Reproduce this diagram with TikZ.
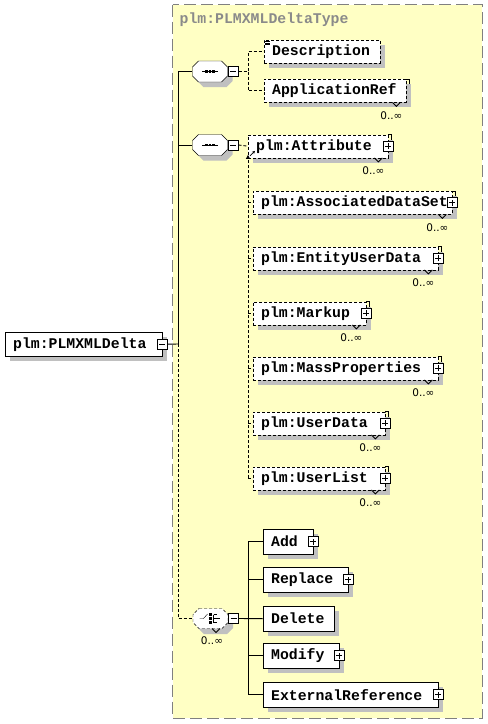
\documentclass[tikz,border=0pt]{standalone}
\usepackage{fontspec}
\usepackage{tikz}
\usetikzlibrary{arrows.meta,positioning,calc}
\newfontfamily\schemafont{Liberation Mono}
\newfontfamily\multfont{DejaVu Sans}
\definecolor{typefill}{HTML}{FFFFC4}
\definecolor{typeedge}{HTML}{808080}
\definecolor{typetext}{HTML}{8A8A8A}
\definecolor{shadegray}{HTML}{C0C0C0}
\pgfdeclarelayer{backdrop}
\pgfdeclarelayer{shade}
\pgfsetlayers{backdrop,shade,main}

\begin{document}
\begin{tikzpicture}[x=1pt,y=-1pt,line width=0.9pt,
    elem/.style    = {draw,fill=white,anchor=north west,inner xsep=8pt,inner ysep=0pt,
                      minimum height=23pt,align=left,
                      font=\schemafont\bfseries\fontsize{14.8}{16}\selectfont},
    opt/.style     = {elem,dash pattern=on 3pt off 2pt},
    pm/.style      = {draw,solid,fill=white,minimum size=10pt,inner sep=0pt,line width=0.8pt},
    minusbox/.style= {pm,path picture={\draw[line width=0.8pt]
                        ([xshift=-3pt]path picture bounding box.center) --
                        ([xshift=3pt]path picture bounding box.center);}},
    plusbox/.style = {pm,path picture={\draw[line width=0.8pt]
                        ([xshift=-3pt]path picture bounding box.center) --
                        ([xshift=3pt]path picture bounding box.center)
                        ([yshift=-3pt]path picture bounding box.center) --
                        ([yshift=3pt]path picture bounding box.center);}},
    compo/.style   = {minimum width=35pt,minimum height=21pt,inner sep=0pt},
    mult/.style    = {font=\multfont\fontsize{10.5}{11}\selectfont,inner sep=0pt},
    link/.style    = {line width=0.9pt},
    optlink/.style = {link,dash pattern=on 3pt off 2pt},
  ]

  % ── Fond et cadre du type complexe ────────────────────────────────────────
  \useasboundingbox (0,0) rectangle (488,724);
  \begin{pgfonlayer}{backdrop}
    \fill[white] (0,0) rectangle (488,724);
    \draw[typeedge,fill=typefill,line width=1pt,dash pattern=on 12pt off 5pt]
      (172.5,4.5) rectangle (482,718);
  \end{pgfonlayer}
  \node[anchor=west,inner sep=0pt,text=typetext,
        font=\schemafont\bfseries\fontsize{14.8}{16}\selectfont] (typename) at (179.5,20) {plm:PLMXMLDeltaType};

  % ── Élément racine ────────────────────────────────────────────────────────
  \node[elem,text width=141pt,minimum height=24pt] (root) at (5,332) {plm:PLMXMLDelta};
  \node[minusbox] (root-m) at (root.east) {};

  % ── Compositeurs « sequence » ─────────────────────────────────────────────
  \foreach \nm/\cy in {seqa/71.5,seqb/145} {
    \fill[shadegray] (203.5,\cy-5.5) -- ++(23,0) -- ++(6,6) -- ++(0,9) -- ++(-6,6) --
      ++(-23,0) -- ++(-6,-6) -- ++(0,-9) -- cycle;
    \node[compo] (\nm) at (210,\cy) {};
    \draw[fill=white] (198.5,\cy-10.5) -- ++(23,0) -- ++(6,6) -- ++(0,9) -- ++(-6,6) --
      ++(-23,0) -- ++(-6,-6) -- ++(0,-9) -- cycle;
    \draw (202,\cy) -- (218,\cy);
    \foreach \dx in {206.5,210,213.5}
      \fill (\dx-1.4,\cy-1.4) rectangle ++(2.8,2.8);
    \node[minusbox,anchor=west] (\nm-m) at (\nm.east) {};
  }

  % ── Compositeur « choice » ────────────────────────────────────────────────
  \fill[shadegray] (204,614) -- ++(23,0) -- ++(6,6) -- ++(0,8) -- ++(-6,6) --
    ++(-23,0) -- ++(-6,-6) -- ++(0,-8) -- cycle;
  \node[compo,minimum height=20pt] (choice) at (210.5,618.5) {};
  \draw[fill=white,dash pattern=on 3pt off 2pt] (199,608.5) -- ++(23,0) -- ++(6,6) --
    ++(0,8) -- ++(-6,6) -- ++(-23,0) -- ++(-6,-6) -- ++(0,-8) -- cycle;
  \draw (199.5,618.5) -- (203.5,618.5) -- (207.5,614);
  \foreach \dy in {-4,0,4}
    \fill (209.3,617.3+\dy) rectangle ++(2.4,2.4);
  \draw (213.5,614.5) -- (213.5,622.5) (213.5,614.5) -- (216.5,614.5)
        (213.5,618.5) -- (219.5,618.5) (213.5,622.5) -- (216.5,622.5);
  \draw[line width=0.8pt] (212,628.5) -- ++(4,4) -- ++(4,-4);
  \node[minusbox,anchor=west] (choice-m) at (choice.east) {};
  \node[mult] (choice-n) at (212,641) {0..∞};

  % ── Tronc principal ───────────────────────────────────────────────────────
  \coordinate (trunk) at (178,344);
  \draw[link] (root-m.east) -- (trunk);
  \draw[link] (trunk) |- (seqa.west);
  \draw[link] (trunk) |- (seqb.west);
  \draw[optlink] (trunk) |- (choice.west);

  % ── Première séquence ─────────────────────────────────────────────────────
  \node[opt,text width=100pt] (desc) at (264,40) {Description};
  \node[opt,text width=126pt] (appref) at (264,79) {ApplicationRef};
  \foreach \k in {0,1.6,3.2}
    \draw[line width=0.6pt] ([shift={(1,1.5+\k)}]desc.north west) -- ++(5,0);
  \coordinate (seqa-br) at (248,71.5);
  \draw[optlink] (seqa-m.east) -- (seqa-br) |- (desc.west);
  \draw[optlink] (seqa-br) |- (appref.west);

  % ── Deuxième séquence ─────────────────────────────────────────────────────
  \foreach \nm/\lx/\ty/\tw/\txt in {attr/248/134.5/124/plm:Attribute,
      assoc/253/191/183/plm:AssociatedDataSet,
      entity/253/246.5/169/plm:EntityUserData,
      markup/253/301.5/97/plm:Markup,
      mass/253/356.5/169/plm:MassProperties,
      udata/253/411.5/116/plm:UserData,
      ulist/253/466.5/116/plm:UserList} {
    \node[opt,text width=\tw pt] (\nm) at (\lx,\ty) {\txt};
    \node[plusbox] (\nm-x) at (\nm.east) {};
  }
  \draw[line width=0.7pt,-{Stealth[length=3pt,width=3pt]}]
    ([shift={(2,-2)}]attr.south west) -- ++(5,-5);
  \coordinate (seqb-br) at (248,478);
  \draw[optlink] (seqb-m.east) -- (attr.west);
  \draw[optlink,-{Triangle[length=4pt,width=4pt]},shorten >=-3pt] (seqb-br) -- (attr.south west);
  \foreach \nm in {assoc,entity,markup,mass,udata,ulist}
    \draw[optlink] (seqb-br |- \nm.west) -- (\nm.west);

  % ── Occurrences multiples : onglet, encoche et 0..∞ ───────────────────────
  \foreach \nm in {appref,attr,assoc,entity,markup,mass,udata,ulist} {
    \draw[line width=0.8pt] (\nm.north east) -- ++(3,0) -- ++(0,5);
    \draw[line width=0.8pt] ([shift={(-14,0)}]\nm.south east) -- ++(4,4) -- ++(4,-4);
    \node[mult] (\nm-n) at ([shift={(-15,13)}]\nm.south east) {0..∞};
  }

  % ── Choix ─────────────────────────────────────────────────────────────────
  \foreach \nm/\ty/\tw/\txt in {add/529/34/Add,replace/567/69/Replace,delete/606/55/Delete,
      modify/643/60/Modify,extref/682/159/ExternalReference}
    \node[elem,text width=\tw pt,minimum height=25pt] (\nm) at (263,\ty) {\txt};
  \foreach \nm in {add,replace,modify,extref}
    \node[plusbox] (\nm-x) at (\nm.east) {};
  \coordinate (choice-br) at (248,618.5);
  \draw[link] (choice-m.east) -- (delete.west);
  \foreach \nm in {add,replace,modify,extref}
    \draw[link] (choice-br) |- (\nm.west);

  % ── Ombres portées ────────────────────────────────────────────────────────
  \begin{pgfonlayer}{shade}
    \foreach \nm in {root,desc,appref,attr,assoc,entity,markup,mass,udata,ulist,
                     add,replace,delete,modify,extref}
      \fill[shadegray] ([shift={(5,5)}]\nm.north west) rectangle ([shift={(5,5)}]\nm.south east);
  \end{pgfonlayer}

\end{tikzpicture}
\end{document}
